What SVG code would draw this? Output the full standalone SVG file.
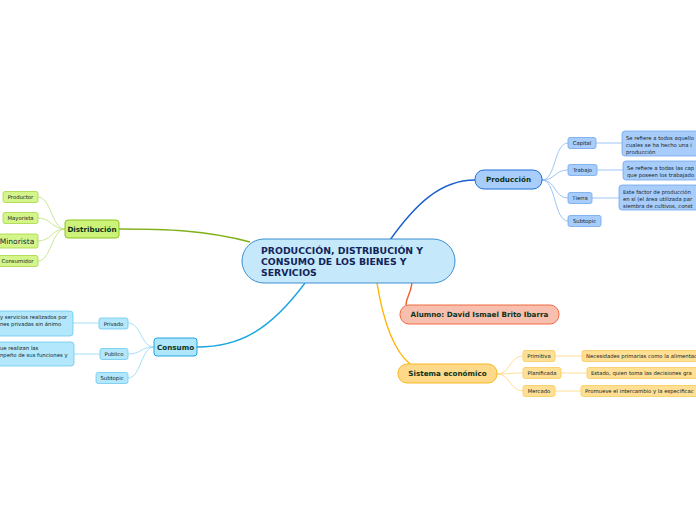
<svg xmlns="http://www.w3.org/2000/svg" width="696" height="520" viewBox="0 0 696 520">
<style>
text{font-family:"DejaVu Sans","Verdana",sans-serif;fill:#1a2a3a}
.main{font-size:9.3px;font-weight:bold;fill:#12245a}
.t1{font-size:7.2px;font-weight:bold;fill:#0d3320;text-anchor:middle}
.s{font-size:5.3px;text-anchor:middle;fill:#101c28}
.d{font-size:5.3px;fill:#101c28}
.bl{fill:#a9cdfb;stroke:#6ea6ee;stroke-width:0.8}
.gr{fill:#d4f58a;stroke:#a8d640;stroke-width:0.8}
.cy{fill:#b3e7fb;stroke:#6cc8ef;stroke-width:0.8}
.ye{fill:#ffdf94;stroke:#f8cc5a;stroke-width:0.8}
</style>
<rect width="696" height="520" fill="#ffffff"/>
<g id="connectors" fill="none">
<path d="M390,240 C415,205 440,180 475,180" stroke="#1a5fd0" stroke-width="1.4"/>
<path d="M542,180 C556,180 554,143 568,143" stroke="#86b6f2" stroke-width="0.8"/>
<path d="M542,180 C556,180 554,170 568,170" stroke="#86b6f2" stroke-width="0.8"/>
<path d="M542,180 C556,180 554,198 568,198" stroke="#86b6f2" stroke-width="0.8"/>
<path d="M542,180 C556,180 554,221 568,221" stroke="#86b6f2" stroke-width="0.8"/>
<path d="M596,143 L622,143" stroke="#86b6f2" stroke-width="0.8"/>
<path d="M597,170 L623,170" stroke="#86b6f2" stroke-width="0.8"/>
<path d="M592,198 L619,198" stroke="#86b6f2" stroke-width="0.8"/>
<path d="M250,242 C205,230 165,229 119,229" stroke="#80b01a" stroke-width="1.4"/>
<path d="M65,229 C52,229 51,197 38,197" stroke="#bde27a" stroke-width="0.8"/>
<path d="M65,229 C52,229 51,218 38,218" stroke="#bde27a" stroke-width="0.8"/>
<path d="M65,229 C52,229 51,241 38,241" stroke="#bde27a" stroke-width="0.8"/>
<path d="M65,229 C52,229 51,261 38,261" stroke="#bde27a" stroke-width="0.8"/>
<path d="M305,283 C270,330 240,347 197,347" stroke="#1aa6e0" stroke-width="1.4"/>
<path d="M154,347 C141,347 141,323 128,323" stroke="#8ed6f2" stroke-width="0.8"/>
<path d="M154,347 C141,347 141,354 128,354" stroke="#8ed6f2" stroke-width="0.8"/>
<path d="M154,347 C141,347 141,378 128,378" stroke="#8ed6f2" stroke-width="0.8"/>
<path d="M99,323 L73,323" stroke="#8ed6f2" stroke-width="0.8"/>
<path d="M100,354 L74,354" stroke="#8ed6f2" stroke-width="0.8"/>
<path d="M377,283 C383,320 393,350 410,364" stroke="#ffb400" stroke-width="1.4"/>
<path d="M497,374 C510,374 510,356 523,356" stroke="#ffd67a" stroke-width="0.8"/>
<path d="M497,374 C510,374 510,373 523,373" stroke="#ffd67a" stroke-width="0.8"/>
<path d="M497,374 C510,374 510,391 523,391" stroke="#ffd67a" stroke-width="0.8"/>
<path d="M555,356 L582,356" stroke="#ffd67a" stroke-width="0.8"/>
<path d="M561,373 L587,373" stroke="#ffd67a" stroke-width="0.8"/>
<path d="M555,391 L581,391" stroke="#ffd67a" stroke-width="0.8"/>
<path d="M412,283 C410,296 406,298 406,305" stroke="#f05a28" stroke-width="1.4"/>
</g>
<g id="central">
<rect x="242" y="239" width="213" height="44" rx="22" fill="#c5e9fb" stroke="#3a8fd0" stroke-width="1"/>
<text class="main" x="261" y="253.5">PRODUCCIÓN, DISTRIBUCIÓN Y</text>
<text class="main" x="261" y="264.5">CONSUMO DE LOS BIENES Y</text>
<text class="main" x="261" y="275.5">SERVICIOS</text>
</g>
<g id="produccion">
<rect x="475" y="170" width="67" height="19" rx="9" fill="#a9cdfb" stroke="#1a6fd6" stroke-width="1"/>
<text class="t1" x="508.5" y="182">Producción</text>
</g>
<g id="capital"><rect class="bl" x="568" y="137.5" width="28" height="11" rx="2"/><text class="s" x="582" y="145">Capital</text></g>
<g id="trabajo"><rect class="bl" x="568" y="164.5" width="29" height="11" rx="2"/><text class="s" x="582.5" y="172">Trabajo</text></g>
<g id="tierra"><rect class="bl" x="568" y="192.5" width="24" height="11" rx="2"/><text class="s" x="580" y="200">Tierra</text></g>
<g id="subtopic-p"><rect class="bl" x="568" y="215.5" width="33" height="11" rx="2"/><text class="s" x="584.5" y="223">Subtopic</text></g>
<g id="capital-desc"><rect class="bl" x="622" y="131" width="80" height="25" rx="3"/>
<text class="d" x="626" y="139.5">Se refiere a todos aquello</text>
<text class="d" x="626" y="146.5">cuales se ha hecho una i</text>
<text class="d" x="626" y="153.5">producción</text></g>
<g id="trabajo-desc"><rect class="bl" x="623" y="161" width="80" height="19" rx="3"/>
<text class="d" x="627" y="169.5">Se refiere a todas las cap</text>
<text class="d" x="627" y="176.5">que poseen los trabajado</text></g>
<g id="tierra-desc"><rect class="bl" x="619" y="185" width="84" height="25" rx="3"/>
<text class="d" x="623" y="193.5">Este factor de producción</text>
<text class="d" x="623" y="200.5">en sí (el área utilizada par</text>
<text class="d" x="623" y="207.5">siembra de cultivos, const</text></g>
<g id="distribucion">
<rect x="65" y="220" width="54" height="18" rx="3" fill="#ccf27a" stroke="#8cc220" stroke-width="1"/>
<text class="t1" x="92" y="232">Distribución</text>
</g>
<g id="productor"><rect class="gr" x="3" y="191.5" width="35" height="11" rx="2"/><text class="s" x="20.5" y="199">Productor</text></g>
<g id="mayorista"><rect class="gr" x="3" y="212.5" width="35" height="11" rx="2"/><text class="s" x="20.5" y="220">Mayorista</text></g>
<g id="minorista"><rect class="gr" x="-2" y="234" width="40" height="14" rx="2"/><text x="17" y="244" style="font-size:7.5px;text-anchor:middle">Minorista</text></g>
<g id="consumidor"><rect class="gr" x="-2" y="255.5" width="40" height="11" rx="2"/><text class="s" x="17.5" y="263">Consumidor</text></g>
<g id="consumo">
<rect x="154" y="338" width="43" height="18" rx="3" fill="#aee6fb" stroke="#22a6e0" stroke-width="1"/>
<text class="t1" x="175.5" y="350">Consumo</text>
</g>
<g id="privado"><rect class="cy" x="99" y="318" width="29" height="11" rx="2"/><text class="s" x="113.5" y="325.5">Privado</text></g>
<g id="publico"><rect class="cy" x="100" y="348.5" width="28" height="11" rx="2"/><text class="s" x="114" y="356">Publico</text></g>
<g id="subtopic-c"><rect class="cy" x="96" y="372.5" width="32" height="11" rx="2"/><text class="s" x="112" y="380">Subtopic</text></g>
<g id="privado-desc"><rect class="cy" x="-10" y="311" width="83" height="25" rx="3"/>
<text class="d" x="0" y="319">y servicios realizados por</text>
<text class="d" x="0" y="326">nes privadas sin ánimo</text></g>
<g id="publico-desc"><rect class="cy" x="-10" y="342" width="84" height="24" rx="3"/>
<text class="d" x="0" y="350">ue realizan las</text>
<text class="d" x="0" y="357">npeño de sus funciones y</text></g>
<g id="sistema">
<rect x="398" y="364" width="99" height="19" rx="9" fill="#ffd98a" stroke="#f5b820" stroke-width="1"/>
<text class="t1" x="447.5" y="376">Sistema económico</text>
</g>
<g id="primitiva"><rect class="ye" x="523" y="350.5" width="32" height="11" rx="2"/><text class="s" x="539" y="358">Primitiva</text></g>
<g id="planificada"><rect class="ye" x="523" y="367.5" width="38" height="11" rx="2"/><text class="s" x="542" y="375">Planificada</text></g>
<g id="mercado"><rect class="ye" x="523" y="385.5" width="32" height="11" rx="2"/><text class="s" x="539" y="393">Mercado</text></g>
<g id="primitiva-desc"><rect class="ye" x="582" y="350.5" width="120" height="11" rx="2"/><text class="d" x="586" y="358">Necesidades primarias como la alimentac</text></g>
<g id="planificada-desc"><rect class="ye" x="587" y="367.5" width="115" height="11" rx="2"/><text class="d" x="591" y="375">Estado, quien toma las decisiones gra</text></g>
<g id="mercado-desc"><rect class="ye" x="581" y="385.5" width="121" height="11" rx="2"/><text class="d" x="585" y="393">Promueve el intercambio y la especificac</text></g>
<g id="alumno">
<rect x="400" y="305" width="159" height="19" rx="9" fill="#f9bfae" stroke="#f06a40" stroke-width="1"/>
<text class="t1" x="479.5" y="317">Alumno: David Ismael Brito Ibarra</text>
</g>
</svg>
